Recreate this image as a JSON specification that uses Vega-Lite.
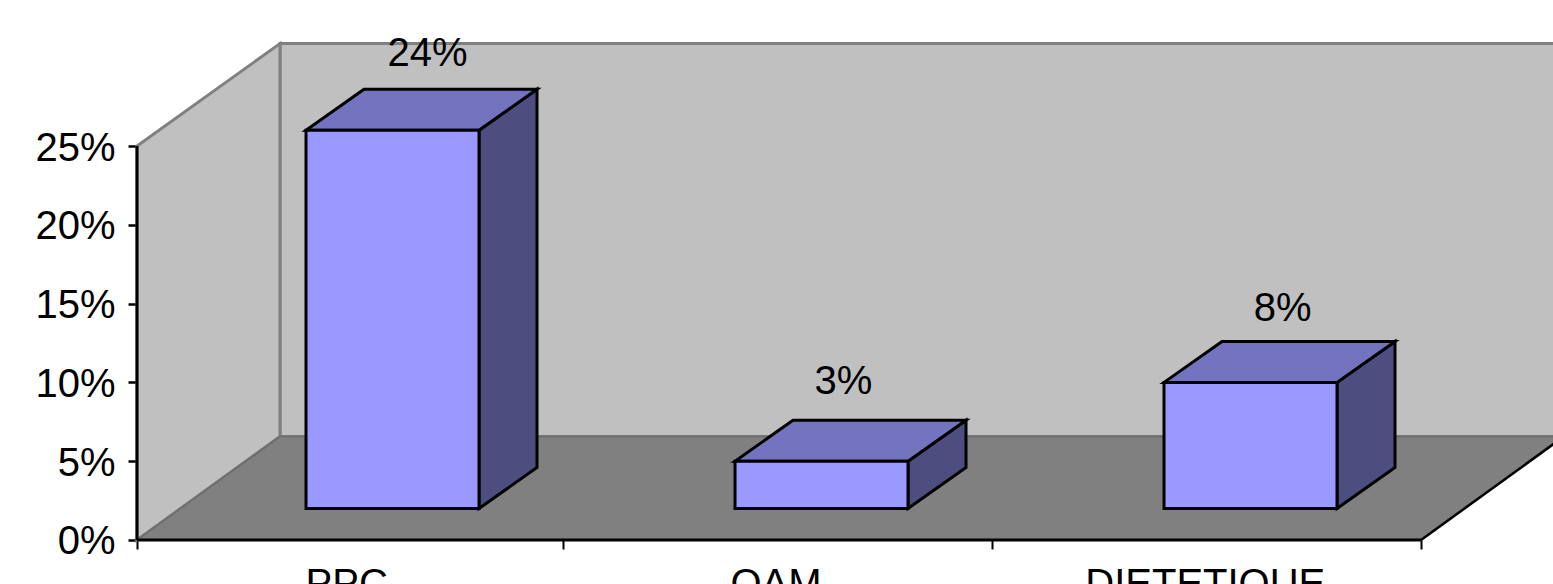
{
  "$schema": "https://vega.github.io/schema/vega-lite/v6.json",
  "width": 1553,
  "height": 584,
  "autosize": "none",
  "padding": 0,
  "background": "white",
  "view": {"stroke": null},
  "config": {"font": "Liberation Sans", "text": {"font": "Liberation Sans"}},
  "datasets": {
    "bars": [
      {"category": "PPC", "slot": 0, "value": 24},
      {"category": "OAM", "slot": 1, "value": 3},
      {"category": "DIETETIQUE", "slot": 2, "value": 8}
    ],
    "depths": [{"depth": 0}, {"depth": 1}]
  },
  "resolve": {"scale": {"x": "shared", "y": "shared"}},
  "encoding": {
    "x": {
      "type": "quantitative",
      "scale": {"domain": [-0.32009, 3.30841], "nice": false, "zero": false},
      "axis": {"orient": "bottom", "offset": -44, "values": [0, 0.9953, 1.9977, 3], "domain": false, "grid": false, "labels": false, "title": null, "tickColor": "black", "tickSize": 9, "tickWidth": 2}
    },
    "y": {
      "type": "quantitative",
      "scale": {"domain": [-2.792, 34.264], "nice": false, "zero": false},
      "axis": {"orient": "left", "offset": -137, "values": [0, 5, 10, 15, 20, 25], "domain": false, "grid": false, "title": null, "tickColor": "black", "tickSize": 9, "tickWidth": 2.5, "labelFontSize": 40, "labelColor": "black", "labelFont": "Liberation Sans", "labelPadding": 13, "labelOffset": 2, "labelExpr": "datum.value + '%'", "labelOverlap": false}
    }
  },
  "layer": [
    {
      "data": {"name": "depths"},
      "transform": [{"filter": "datum.depth === 1"}, {"calculate": "0.3341", "as": "xa"}, {"calculate": "3.3341", "as": "xb"}, {"calculate": "6.57", "as": "ya"}, {"calculate": "31.5", "as": "yb"}],
      "mark": {"type": "rect", "fill": "#C0C0C0", "stroke": "#808080", "strokeWidth": 3},
      "encoding": {
        "x": {"field": "xa", "type": "quantitative"},
        "x2": {"field": "xb"},
        "y": {"field": "ya", "type": "quantitative"},
        "y2": {"field": "yb"}
      }
    },
    {
      "data": {"name": "depths"},
      "transform": [{"calculate": "datum.depth * 0.3341", "as": "xa"}, {"calculate": "datum.depth * 6.57", "as": "ya"}, {"calculate": "25 + datum.depth * 6.5", "as": "yb"}],
      "mark": {"type": "area", "orient": "vertical", "fill": "#C0C0C0", "stroke": "#808080", "strokeWidth": 3},
      "encoding": {
        "x": {"field": "xa", "type": "quantitative"},
        "y": {"field": "ya", "type": "quantitative", "stack": null},
        "y2": {"field": "yb"}
      }
    },
    {
      "data": {"name": "depths"},
      "transform": [{"calculate": "datum.depth * 6.57", "as": "ya"}, {"calculate": "datum.depth * 0.3341", "as": "xa"}, {"calculate": "3 + datum.depth * 0.3341", "as": "xb"}],
      "mark": {"type": "area", "orient": "horizontal", "fill": "#808080", "stroke": "#6E6E6E", "strokeWidth": 2},
      "encoding": {
        "y": {"field": "ya", "type": "quantitative"},
        "x": {"field": "xa", "type": "quantitative", "stack": null},
        "x2": {"field": "xb"}
      }
    },
    {
      "data": {"name": "depths"},
      "transform": [{"calculate": "3 + datum.depth * 0.3341", "as": "xa"}, {"calculate": "datum.depth * 6.57", "as": "ya"}],
      "mark": {"type": "line", "stroke": "black", "strokeWidth": 2.5},
      "encoding": {
        "x": {"field": "xa", "type": "quantitative"},
        "y": {"field": "ya", "type": "quantitative"}
      }
    },
    {
      "data": {"name": "bars"},
      "transform": [
        {"calculate": "0.3949 + datum.slot * 429 / 428", "as": "left"},
        {"calculate": "datum.left + 0.4042", "as": "right"},
        {"calculate": "2.0", "as": "base"},
        {"calculate": "datum.base + datum.value", "as": "top"},
        {"calculate": "[0, 1]", "as": "depth"},
        {"flatten": ["depth"]},
        {"calculate": "datum.right + datum.depth * 0.1355", "as": "xa"},
        {"calculate": "datum.base + datum.depth * 2.6", "as": "ya"},
        {"calculate": "datum.top + datum.depth * 2.6", "as": "yb"}
      ],
      "mark": {"type": "area", "orient": "vertical", "fill": "#4D4D80", "stroke": "black", "strokeWidth": 3, "strokeJoin": "miter"},
      "encoding": {
        "x": {"field": "xa", "type": "quantitative"},
        "y": {"field": "ya", "type": "quantitative", "stack": null},
        "y2": {"field": "yb"},
        "detail": {"field": "category"}
      }
    },
    {
      "data": {"name": "bars"},
      "transform": [
        {"calculate": "0.3949 + datum.slot * 429 / 428", "as": "left"},
        {"calculate": "datum.left + 0.4042", "as": "right"},
        {"calculate": "2.0 + datum.value", "as": "top"},
        {"calculate": "[0, 1]", "as": "depth"},
        {"flatten": ["depth"]},
        {"calculate": "datum.top + datum.depth * 2.6", "as": "ya"},
        {"calculate": "datum.left + datum.depth * 0.1355", "as": "xa"},
        {"calculate": "datum.right + datum.depth * 0.1355", "as": "xb"}
      ],
      "mark": {"type": "area", "orient": "horizontal", "fill": "#7373BF", "stroke": "black", "strokeWidth": 3, "strokeJoin": "miter"},
      "encoding": {
        "y": {"field": "ya", "type": "quantitative"},
        "x": {"field": "xa", "type": "quantitative", "stack": null},
        "x2": {"field": "xb"},
        "detail": {"field": "category"}
      }
    },
    {
      "data": {"name": "bars"},
      "transform": [
        {"calculate": "0.3949 + datum.slot * 429 / 428", "as": "left"},
        {"calculate": "datum.left + 0.4042", "as": "right"},
        {"calculate": "2.0", "as": "base"},
        {"calculate": "datum.base + datum.value", "as": "top"}
      ],
      "mark": {"type": "rect", "fill": "#9999FF", "stroke": "black", "strokeWidth": 3},
      "encoding": {
        "x": {"field": "left", "type": "quantitative"},
        "x2": {"field": "right"},
        "y": {"field": "base", "type": "quantitative"},
        "y2": {"field": "top"}
      }
    },
    {
      "data": {"name": "bars"},
      "transform": [
        {"calculate": "0.3949 + datum.slot * 429 / 428 + 0.2021 + (datum.category === 'PPC' ? 0.082 : datum.category === 'OAM' ? 0.051 : 0.075)", "as": "lx"},
        {"calculate": "2.0 + datum.value + 2.6 + (datum.category === 'PPC' ? -0.06 : datum.category === 'OAM' ? 0.12 : -0.25)", "as": "ly"},
        {"calculate": "datum.value + '%'", "as": "label"}
      ],
      "mark": {"type": "text", "fontSize": 40, "align": "center", "baseline": "alphabetic", "dy": -24, "fill": "black"},
      "encoding": {
        "x": {"field": "lx", "type": "quantitative"},
        "y": {"field": "ly", "type": "quantitative"},
        "text": {"field": "label"}
      }
    },
    {
      "data": {"name": "bars"},
      "transform": [{"calculate": "datum.slot * 1.003 + 0.49", "as": "lx"}, {"calculate": "0", "as": "ly"}],
      "mark": {"type": "text", "fontSize": 40, "align": "center", "baseline": "alphabetic", "dy": 57, "fill": "black"},
      "encoding": {
        "x": {"field": "lx", "type": "quantitative"},
        "y": {"field": "ly", "type": "quantitative"},
        "text": {"field": "category"}
      }
    },
    {
      "data": {"values": [{"from": 0, "to": 3, "level": 0}]},
      "mark": {"type": "rule", "stroke": "black", "strokeWidth": 3},
      "encoding": {
        "x": {"field": "from", "type": "quantitative"},
        "x2": {"field": "to"},
        "y": {"field": "level", "type": "quantitative"}
      }
    },
    {
      "data": {"values": [{"at": 0, "low": 0, "high": 25}]},
      "mark": {"type": "rule", "stroke": "black", "strokeWidth": 3},
      "encoding": {
        "x": {"field": "at", "type": "quantitative"},
        "y": {"field": "low", "type": "quantitative"},
        "y2": {"field": "high"}
      }
    }
  ]
}
